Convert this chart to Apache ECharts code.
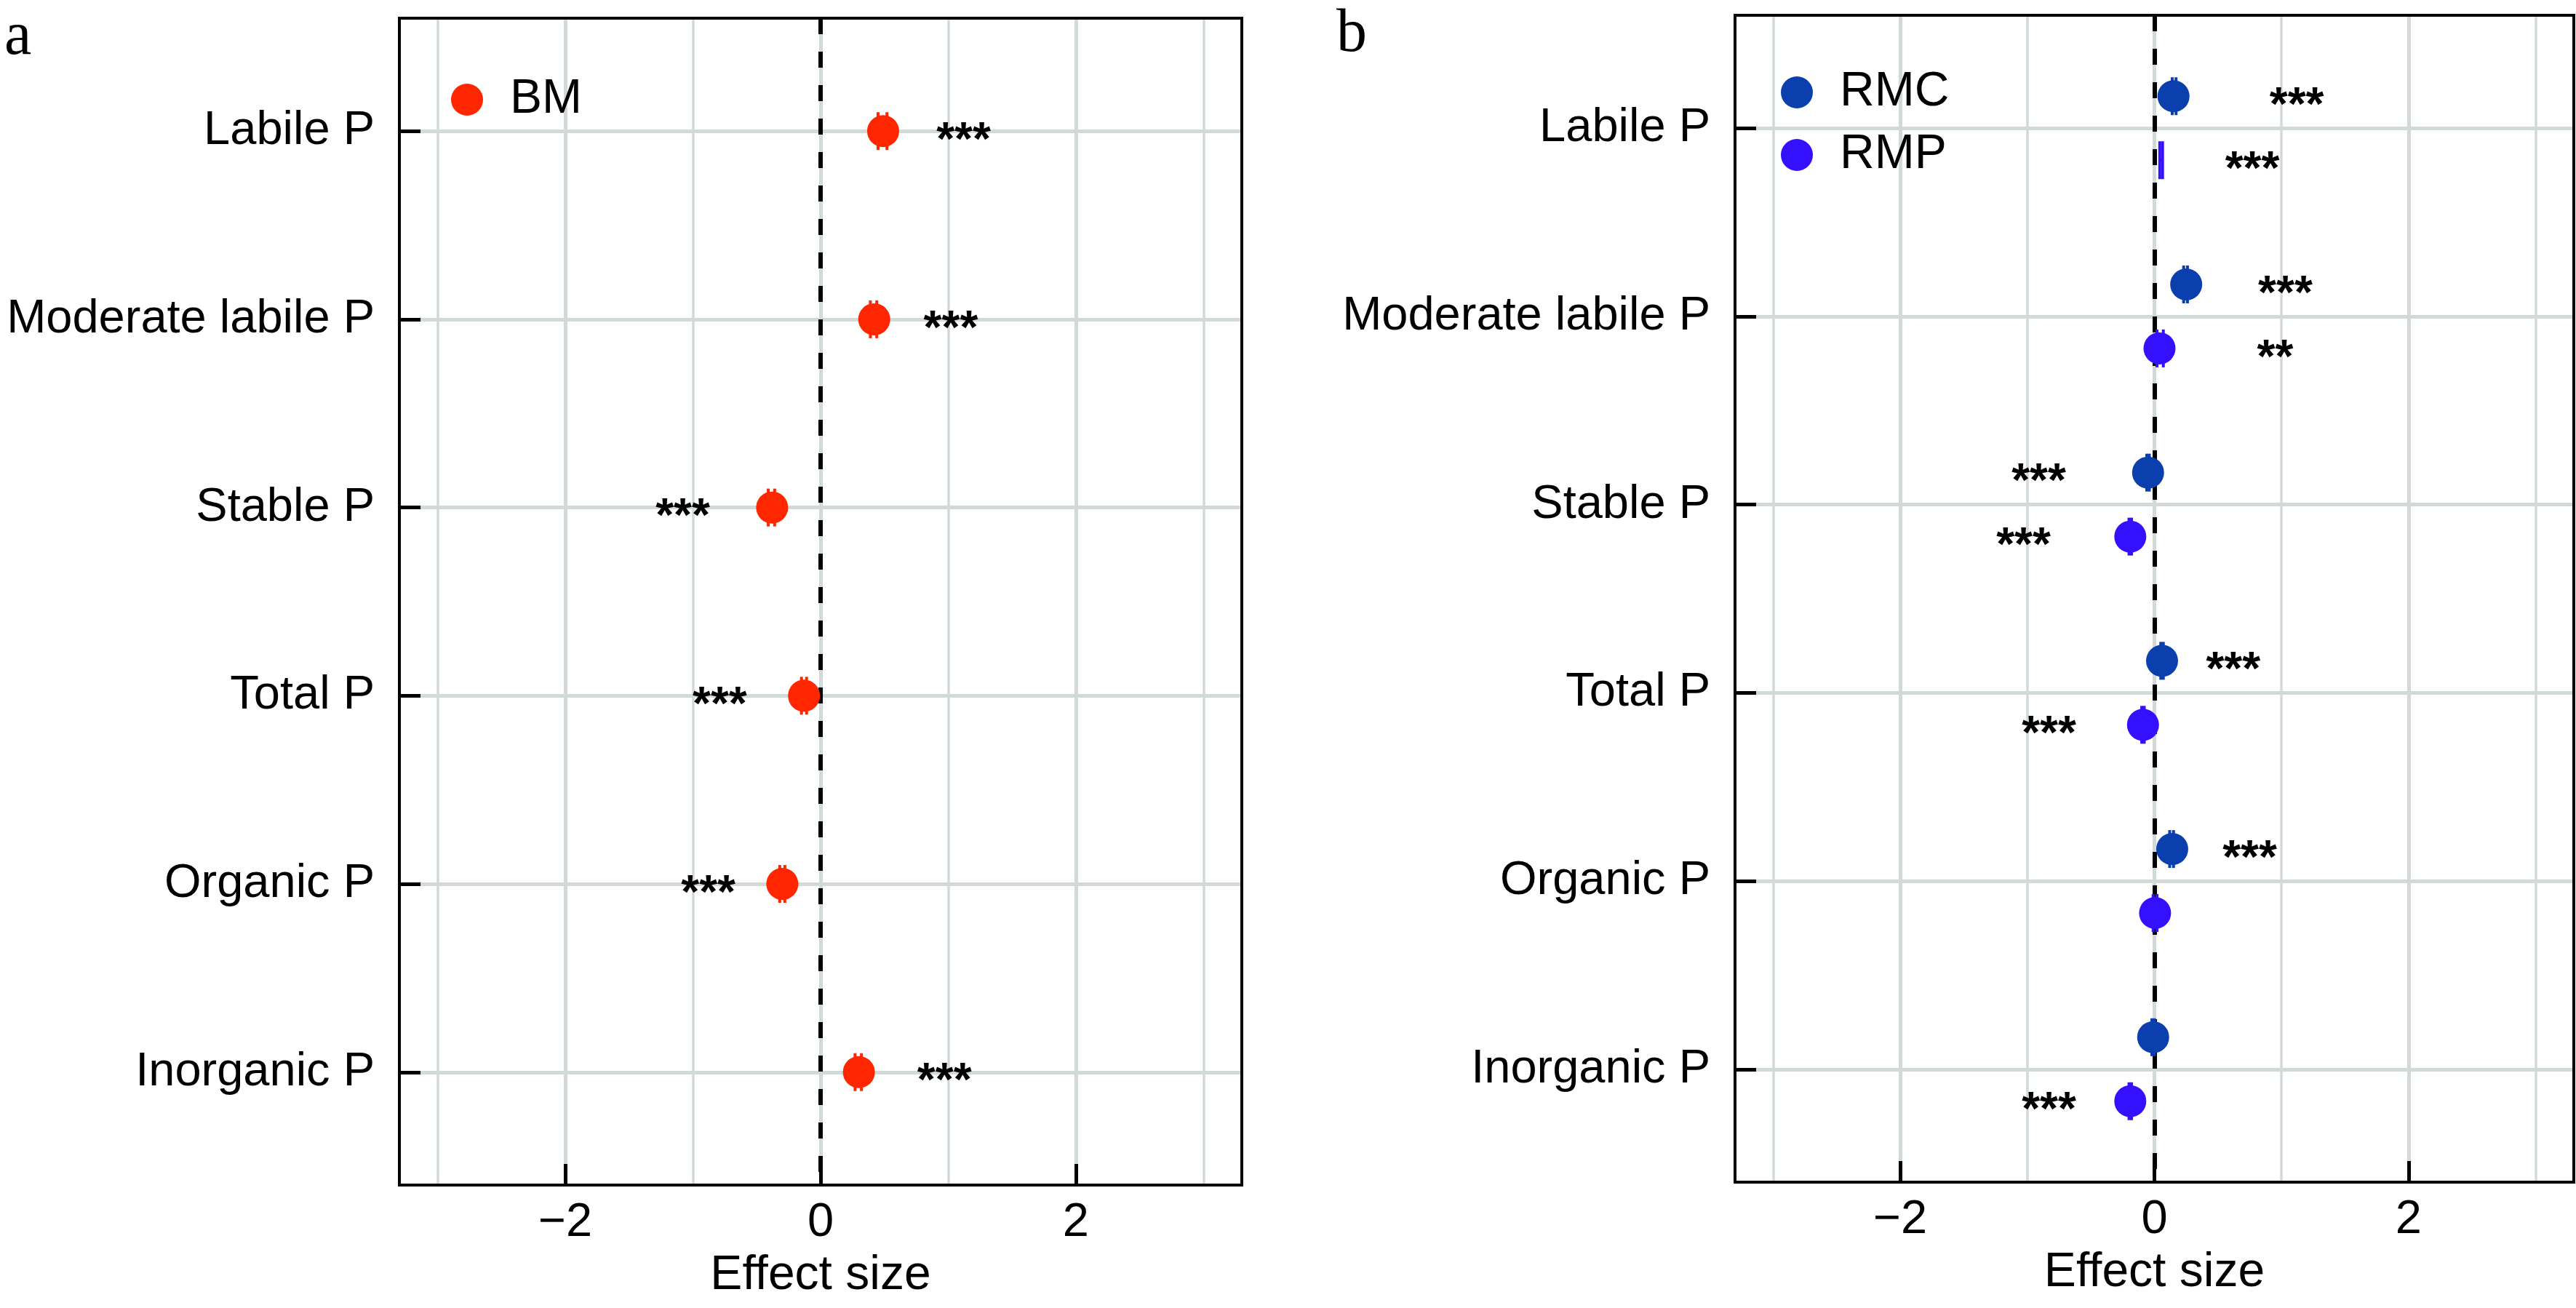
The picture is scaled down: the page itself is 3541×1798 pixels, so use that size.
<!DOCTYPE html>
<html>
<head>
<meta charset="utf-8">
<script src="https://cdn.jsdelivr.net/npm/echarts@6/dist/echarts.min.js"></script>
<style>
html,body{margin:0;padding:0;background:#fff;}
#chart{width:3541px;height:1798px;}
</style>
</head>
<body>
<div id="chart"></div>
<script>
// ---------- data ----------
const categories = ['Labile P', 'Moderate labile P', 'Stable P', 'Total P', 'Organic P', 'Inorganic P'];

// panel a : BM
const bmEst  = [0.49, 0.42, -0.38, -0.13, -0.30, 0.30];
const bmLow  = [0.45, 0.39, -0.41, -0.15, -0.32, 0.27];
const bmHigh = [0.52, 0.44, -0.36, -0.11, -0.28, 0.32];
const bmSig  = ['***', '***', '***', '***', '***', '***'];
const bmSigX = [1.12, 1.02, -1.08, -0.79, -0.88, 0.97];

// panel b : RMC
const rmcEst  = [0.15, 0.25, -0.05, 0.06, 0.14, -0.01];
const rmcLow  = [0.14, 0.23, -0.06, 0.05, 0.12, -0.02];
const rmcHigh = [0.17, 0.26, -0.04, 0.07, 0.15, 0.00];
const rmcSig  = ['***', '***', '***', '***', '***', ''];
const rmcSigX = [1.12, 1.03, -0.91, 0.62, 0.75, null];

// panel b : RMP
const rmpEst  = [null, 0.04, -0.19, -0.09, 0.005, -0.19];
const rmpLow  = [0.042, 0.02, -0.20, -0.10, -0.01, -0.20];
const rmpHigh = [0.064, 0.07, -0.18, -0.08, 0.02, -0.18];
const rmpSig  = ['***', '**', '***', '***', '', '***'];
const rmpSigX = [0.77, 0.95, -1.03, -0.83, null, -0.83];

const xTickValues = [-2, 0, 2];
const xMajorGrid = [-2, 0, 2];
const xMinorGrid = [-3, -1, 1, 3];
const catPositions = [1, 2, 3, 4, 5, 6];

// ---------- style ----------
const FONT = 'Liberation Sans';
const GRID_COLOR = '#d2d9d9';
const COLORS = { BM: '#ff2600', RMC: '#0b3fae', RMP: '#3510ff' };
const DODGE = 0.17;

const chart = echarts.init(document.getElementById('chart'), null, { renderer: 'canvas' });

function xAxisFor(i) {
  return {
    gridIndex: i, type: 'value', min: -3.3, max: 3.3, z: 10,
    splitLine: { show: false },
    axisLine: { show: false, onZero: false },
    axisTick: { show: true, inside: true, length: 29, customValues: xTickValues,
      lineStyle: { color: '#000', width: 5 } },
    axisLabel: { customValues: xTickValues, fontSize: 65, color: '#000', fontFamily: FONT, margin: 20,
      formatter: v => (v < 0 ? '\u2212' + Math.abs(v) : String(v)) },
    name: 'Effect size', nameLocation: 'middle', nameGap: 92,
    nameTextStyle: { fontSize: 66, color: '#000', fontFamily: FONT }
  };
}
function yAxisFor(i) {
  return {
    gridIndex: i, type: 'value', inverse: true, min: 0.4, max: 6.6, z: 10,
    splitLine: { show: false },
    axisLine: { show: false, onZero: false },
    axisTick: { show: true, inside: true, length: 29, customValues: catPositions,
      lineStyle: { color: '#000', width: 5 } },
    axisLabel: { customValues: catPositions, fontSize: 65, color: '#000', fontFamily: FONT, margin: 34,
      formatter: v => categories[Math.round(v) - 1] }
  };
}

function gridSeries(i) {
  const d = [];
  xMinorGrid.forEach(v => d.push({ xAxis: v, lineStyle: { width: 3.5, color: GRID_COLOR, type: 'solid' } }));
  xMajorGrid.forEach(v => d.push({ xAxis: v, lineStyle: { width: 5, color: GRID_COLOR, type: 'solid' } }));
  catPositions.forEach(v => d.push({ yAxis: v, lineStyle: { width: 5, color: GRID_COLOR, type: 'solid' } }));
  return {
    type: 'line', name: 'grid' + i, xAxisIndex: i, yAxisIndex: i, data: [], silent: true, z: 1,
    markLine: { silent: true, z: 1, symbol: ['none', 'none'], label: { show: false }, emphasis: { disabled: true },
      animation: false, data: d }
  };
}
function zeroSeries(i) {
  return {
    type: 'line', name: 'zero' + i, xAxisIndex: i, yAxisIndex: i, data: [], silent: true, z: 2,
    markLine: { silent: true, z: 2, symbol: ['none', 'none'], label: { show: false }, emphasis: { disabled: true },
      animation: false,
      data: [{ xAxis: 0, lineStyle: { width: 6, color: '#000', type: [22, 24] } }] }
  };
}
function ciSeries(i, name, low, high, offset) {
  const data = low.map((lo, k) => [lo, high[k], k + 1 + offset]);
  const color = COLORS[name];
  return {
    type: 'custom', name: name + '-ci', xAxisIndex: i, yAxisIndex: i, z: 3, silent: true,
    encode: { x: [0, 1], y: 2 },
    data: data,
    renderItem: function (params, api) {
      const a = api.coord([api.value(0), api.value(2)]);
      const b = api.coord([api.value(1), api.value(2)]);
      const h = 26;
      const st = { stroke: color, lineWidth: 4 };
      return { type: 'group', children: [
        { type: 'line', shape: { x1: a[0], y1: a[1], x2: b[0], y2: b[1] }, style: st },
        { type: 'line', shape: { x1: a[0], y1: a[1] - h, x2: a[0], y2: a[1] + h }, style: st },
        { type: 'line', shape: { x1: b[0], y1: b[1] - h, x2: b[0], y2: b[1] + h }, style: st }
      ] };
    }
  };
}
function pointSeries(i, name, est, offset) {
  const data = [];
  est.forEach((v, k) => { if (v !== null) data.push([v, k + 1 + offset]); });
  return {
    type: 'scatter', name: name, xAxisIndex: i, yAxisIndex: i, z: 4,
    symbol: 'circle', symbolSize: 44, data: data,
    itemStyle: { color: COLORS[name], opacity: 1 },
    emphasis: { disabled: true }
  };
}
function sigSeries(i, name, sigX, sig, offset) {
  const data = [], texts = [];
  sigX.forEach((v, k) => { if (v !== null && sig[k]) { data.push([v, k + 1 + offset]); texts.push(sig[k]); } });
  return {
    type: 'custom', name: name + '-sig', xAxisIndex: i, yAxisIndex: i, z: 5, silent: true,
    encode: { x: 0, y: 1 },
    data: data,
    renderItem: function (params, api) {
      const p = api.coord([api.value(0), api.value(1)]);
      return { type: 'text', x: p[0], y: p[1] + 15,
        style: { text: texts[params.dataIndex], fill: '#000', font: 'bold 64px "Liberation Sans"',
          align: 'center', verticalAlign: 'middle' } };
    }
  };
}

const option = {
  backgroundColor: '#fff',
  animation: false,
  grid: [
    { left: 549, top: 25, width: 1158, height: 1604, show: true, borderColor: '#000', borderWidth: 4,
      backgroundColor: 'transparent', z: 10 },
    { left: 2385, top: 21, width: 1153, height: 1604, show: true, borderColor: '#000', borderWidth: 4,
      backgroundColor: 'transparent', z: 10 }
  ],
  xAxis: [xAxisFor(0), xAxisFor(1)],
  yAxis: [yAxisFor(0), yAxisFor(1)],
  legend: [
    { data: ['BM'], left: 615, top: 99, orient: 'vertical', icon: 'circle', itemWidth: 44, itemHeight: 44,
      selectedMode: false, textStyle: { fontSize: 66, color: '#000', fontFamily: FONT, padding: [0, 0, 0, 32] } },
    { data: ['RMC', 'RMP'], left: 2443, top: 89, orient: 'vertical', icon: 'circle', itemWidth: 44, itemHeight: 44,
      itemGap: 20, selectedMode: false,
      textStyle: { fontSize: 66, color: '#000', fontFamily: FONT, padding: [0, 0, 0, 32] } }
  ],
  graphic: [
    { type: 'text', left: 6, top: 10, style: { text: 'a', font: '84px "Liberation Serif"', fill: '#000' } },
    { type: 'text', left: 1837, top: 6, style: { text: 'b', font: '84px "Liberation Serif"', fill: '#000' } }
  ],
  series: [
    gridSeries(0), zeroSeries(0),
    ciSeries(0, 'BM', bmLow, bmHigh, 0),
    pointSeries(0, 'BM', bmEst, 0),
    sigSeries(0, 'BM', bmSigX, bmSig, 0),
    gridSeries(1), zeroSeries(1),
    ciSeries(1, 'RMC', rmcLow, rmcHigh, -DODGE),
    ciSeries(1, 'RMP', rmpLow, rmpHigh, DODGE),
    pointSeries(1, 'RMC', rmcEst, -DODGE),
    pointSeries(1, 'RMP', rmpEst, DODGE),
    sigSeries(1, 'RMC', rmcSigX, rmcSig, -DODGE),
    sigSeries(1, 'RMP', rmpSigX, rmpSig, DODGE)
  ]
};
chart.setOption(option);
</script>
</body>
</html>
